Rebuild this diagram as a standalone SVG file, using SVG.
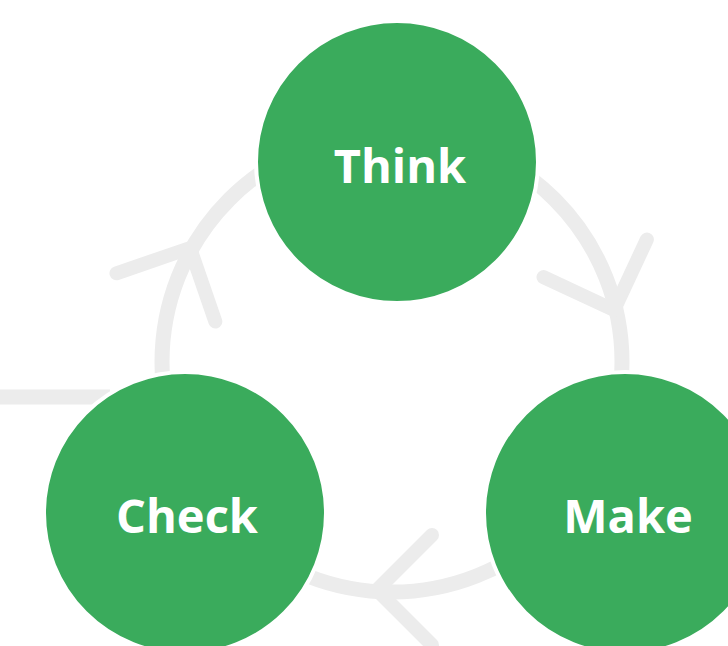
<svg xmlns="http://www.w3.org/2000/svg" xmlns:xlink="http://www.w3.org/1999/xlink" width="728" height="646" viewBox="0 0 728 646">
  <style>
    .ring { fill: none; stroke: #ececec; stroke-width: 15; }
    .chev { fill: none; stroke: #ececec; stroke-width: 14; stroke-linecap: round; stroke-linejoin: round; }
    .node { fill: #3aab5c; stroke: #ffffff; stroke-width: 4; }
    .label { fill: #ffffff; font-family: "Open Sans", "Liberation Sans", sans-serif; font-weight: 700; font-size: 47px; text-anchor: middle; }
  </style>
  <defs>
    <path id="chevron" class="chev" d="M -55 -55 L 0 0 L -55 55"/>
  </defs>
  <rect width="728" height="646" fill="#ffffff"/>
  <g id="connectors">
    <circle class="ring" cx="392" cy="362" r="230"/>
    <line class="ring" x1="0" y1="397" x2="110" y2="397"/>
    <use xlink:href="#chevron" href="#chevron" transform="translate(190,248) rotate(-64)"/>
    <use xlink:href="#chevron" href="#chevron" transform="translate(614,310) rotate(70)"/>
    <use xlink:href="#chevron" href="#chevron" transform="translate(377,590) rotate(180)"/>
  </g>
  <g id="think">
    <circle class="node" cx="397" cy="162" r="141"/>
    <text class="label" x="400" y="183">Think</text>
  </g>
  <g id="check">
    <circle class="node" cx="185" cy="513" r="141"/>
    <text class="label" x="187" y="533">Check</text>
  </g>
  <g id="make">
    <circle class="node" cx="625" cy="513" r="141"/>
    <text class="label" x="628" y="533">Make</text>
  </g>
</svg>
